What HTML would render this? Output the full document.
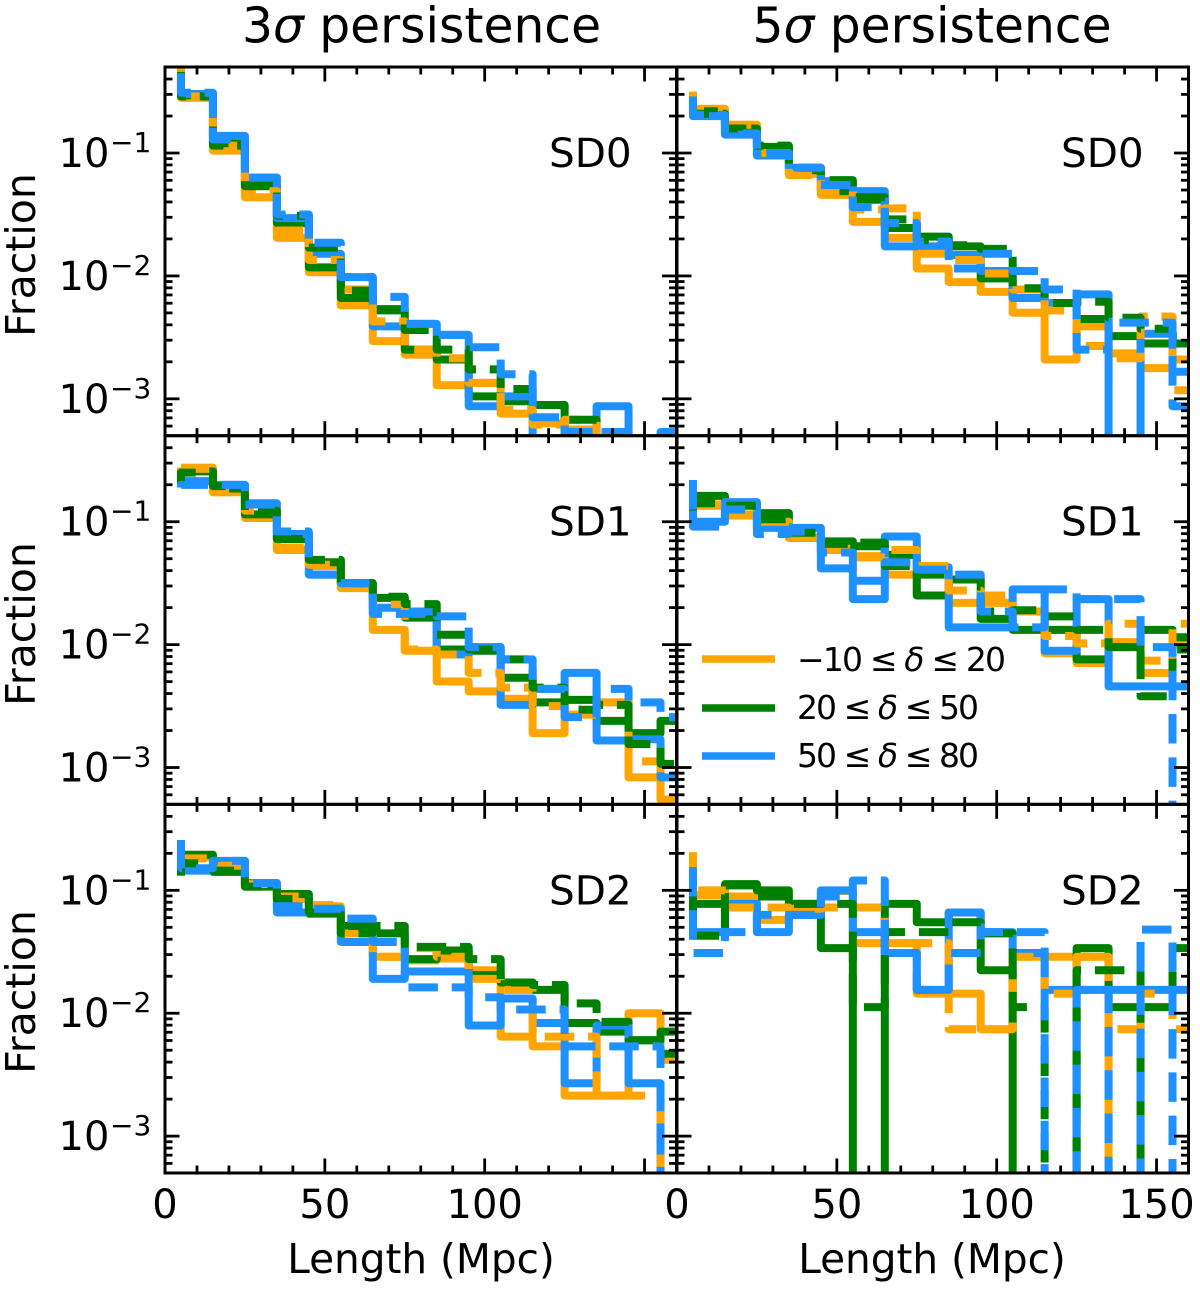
<!DOCTYPE html>
<html lang="en">
<head>
<meta charset="utf-8">
<title>Filament length fractions</title>
<style>
html,body{margin:0;padding:0;background:#fff;}
svg{display:block;}
text{font-family:"DejaVu Sans","Liberation Sans",sans-serif;fill:#000;}
</style>
</head>
<body>
<svg id="chart" xmlns="http://www.w3.org/2000/svg" width="1200" height="1291" viewBox="0 0 1200 1291">
  <rect x="0" y="0" width="1200" height="1291" fill="#fff"/>
  <text x="421.5" y="42.5" font-size="48.7" text-anchor="middle">3<tspan font-style="italic">σ</tspan> persistence</text>
  <text x="932" y="42.5" font-size="48.7" text-anchor="middle">5<tspan font-style="italic">σ</tspan> persistence</text>
  <text transform="translate(35,255) rotate(-90)" font-size="41" text-anchor="middle">Fraction</text>
  <text transform="translate(35,624) rotate(-90)" font-size="41" text-anchor="middle">Fraction</text>
  <text transform="translate(35,992) rotate(-90)" font-size="41" text-anchor="middle">Fraction</text>
  <text x="421" y="1273" font-size="40.6" text-anchor="middle">Length (Mpc)</text>
  <text x="932" y="1273" font-size="40.6" text-anchor="middle">Length (Mpc)</text>
  <g id="panels"></g>
  <g>
    <line x1="702" y1="659" x2="775" y2="659" stroke="#FFA500" stroke-width="7.6"/>
    <text x="797" y="671" font-size="33" textLength="209">−10 ≤ <tspan font-style="italic">δ</tspan> ≤ 20</text>
    <line x1="702" y1="708" x2="775" y2="708" stroke="#008000" stroke-width="7.6"/>
    <text x="797" y="719" font-size="33" textLength="182">20 ≤ <tspan font-style="italic">δ</tspan> ≤ 50</text>
    <line x1="702" y1="756" x2="775" y2="756" stroke="#1E90FF" stroke-width="7.6"/>
    <text x="797" y="767" font-size="33" textLength="182">50 ≤ <tspan font-style="italic">δ</tspan> ≤ 80</text>
  </g>
</svg>
<script>
// Bin positions (Mpc); each value holds from the previous position up to this one. Values are log10(fraction); null = empty bin.
const binPositions = [5,15,25,35,45,55,65,75,85,95,105,115,125,135,145,155,165];
const n = null;

// 3 sigma, SD0
const s3sd0OrangeSolid = [-.27,-.55,-.98,-1.36,-1.69,-1.97,-2.24,-2.53,-2.64,-2.89,-2.87,-3.12,-3.20,-3.25,n,n,n];
const s3sd0OrangeDash  = [-.27,-.54,-.94,-1.31,-1.63,-1.87,-2.11,-2.37,-2.60,-2.67,-2.87,-3.09,-3.21,-3.17,n,n,n];
const s3sd0GreenSolid  = [-.33,-.53,-.92,-1.26,-1.57,-1.93,-2.18,-2.28,-2.60,-2.68,-2.98,-3.02,-3.05,-3.28,n,n,n];
const s3sd0GreenDash   = [-.34,-.54,-.94,-1.27,-1.51,-1.77,-2.12,-2.27,-2.44,-2.60,-2.76,-2.92,-3.05,-3.17,n,n,n];
const s3sd0BlueSolid   = [-.35,-.52,-.86,-1.20,-1.53,-1.82,-2.01,-2.41,-2.39,-2.48,-3.06,-2.98,n,-3.27,-3.06,n,-3.27];
const s3sd0BlueDash    = [-.35,-.51,-.89,-1.20,-1.50,-1.73,-2.01,-2.17,-2.39,-2.48,-2.58,-2.80,-3.15,-3.27,-3.27,n,n];

// 5 sigma, SD0
const s5sd0OrangeSolid = [-.50,-.64,-.77,-1.02,-1.17,-1.34,-1.56,-1.69,-1.94,-2.05,-2.13,-2.30,-2.68,-2.41,-2.63,-2.75,-2.68];
const s5sd0OrangeDash  = [-.50,-.65,-.77,-1.00,-1.18,-1.31,-1.46,-1.45,-1.82,-1.87,-1.98,-2.11,-2.28,-2.57,-2.67,-2.33,-2.93];
const s5sd0GreenSolid  = [-.57,-.66,-.80,-.95,-1.14,-1.31,-1.38,-1.61,-1.68,-1.76,-2.02,-2.18,-2.22,-2.35,-2.49,-2.55,-2.55];
const s5sd0GreenDash   = [-.57,-.68,-.80,-.94,-1.12,-1.22,-1.36,-1.54,-1.71,-1.75,-1.78,-2.10,-2.22,-2.21,-2.34,-2.43,-2.49];
const s5sd0BlueSolid   = [-.515,-.70,-.85,-1.02,-1.12,-1.23,-1.31,-1.76,-1.76,-1.83,-1.96,-2.18,-2.22,-2.15,n,-2.47,-2.78];
const s5sd0BlueDash    = [-.54,-.69,-.84,-1.00,-1.12,-1.26,-1.44,-1.57,-1.72,-1.94,-1.82,-1.96,-2.11,-2.60,-2.38,-2.38,-3.06];

// 3 sigma, SD1
const s3sd1OrangeSolid = [-.56,-.56,-.76,-.97,-1.23,-1.36,-1.54,-1.88,-2.05,-2.30,-2.38,-2.44,-2.72,-2.57,-2.47,-3.08,-3.26];
const s3sd1OrangeDash  = [-.56,-.57,-.76,-.91,-1.21,-1.35,-1.54,-1.67,-2.04,-2.08,-2.23,-2.35,-2.50,-2.57,-2.47,-2.95,-3.26];
const s3sd1GreenSolid  = [-.72,-.59,-.73,-.94,-1.14,-1.33,-1.50,-1.62,-1.78,-2.04,-2.05,-2.27,-2.47,-2.45,-2.62,-2.72,-2.62];
const s3sd1GreenDash   = [-.72,-.60,-.71,-.91,-1.14,-1.31,-1.50,-1.61,-1.67,-1.92,-2.04,-2.12,-2.35,-2.53,-2.49,-2.81,-2.97];
const s3sd1BlueSolid   = [-.72,-.67,-.70,-.85,-1.10,-1.43,-1.50,-1.70,-1.73,-2.08,-2.02,-2.49,-2.36,-2.23,-2.78,-2.77,-3.08];
const s3sd1BlueDash    = [-.72,-.70,-.70,-.86,-1.08,-1.43,-1.50,-1.75,-1.75,-1.77,-2.02,-2.12,-2.36,-2.59,-2.36,-2.47,-2.59];

// 5 sigma, SD1
const s5sd1OrangeSolid = [-.87,-.87,-.95,-1.01,-1.13,-1.23,-1.28,-1.43,-1.60,-1.66,-1.66,-1.73,-2.07,-2.15,-1.98,-2.23,-2.00];
const s5sd1OrangeDash  = [-.87,-.86,-.94,-1.00,-1.13,-1.22,-1.29,-1.23,-1.36,-1.56,-1.60,-1.73,-1.93,-1.99,-1.83,-2.13,-1.83];
const s5sd1GreenSolid  = [-.91,-.79,-.85,-.93,-1.13,-1.16,-1.20,-1.27,-1.60,-1.47,-1.79,-1.88,-1.88,-2.12,-2.02,-1.88,-1.94];
const s5sd1GreenDash   = [-.91,-.85,-.87,-.98,-1.09,-1.18,-1.17,-1.36,-1.43,-1.47,-1.73,-1.72,-1.77,-1.88,-2.02,-2.42,-2.04];
const s5sd1BlueSolid   = [-.66,-1.00,-.84,-1.05,-1.05,-1.38,-1.63,-1.12,-1.37,-1.86,-1.86,-1.55,-2.05,-1.63,-2.34,-2.34,-2.34];
const s5sd1BlueDash    = [-.66,-1.04,-.90,-1.10,-1.08,-1.25,-1.48,-1.33,-1.39,-1.43,-1.73,-1.86,-1.55,-1.63,-1.63,-2.02,n];

// 3 sigma, SD2
const s3sd2OrangeSolid = [-.71,-.73,-.82,-.95,-1.07,-1.13,-1.35,-1.54,-1.57,-1.555,-1.65,-2.19,-2.27,-2.67,-2.67,-2.00,-2.38];
const s3sd2OrangeDash  = [-.71,-.74,-.80,-.95,-1.05,-1.12,-1.35,-1.54,-1.47,-1.54,-1.72,-1.81,-2.19,-2.19,-2.67,-2.67,n];
const s3sd2GreenSolid  = [-.88,-.71,-.85,-.97,-1.03,-1.19,-1.29,-1.35,-1.56,-1.49,-1.69,-1.75,-1.81,-2.08,-2.15,-2.22,-2.15];
const s3sd2GreenDash   = [-.88,-.78,-.84,-.97,-1.07,-1.18,-1.35,-1.29,-1.46,-1.46,-1.56,-1.75,-1.77,-1.92,-2.07,-2.22,-2.33];
const s3sd2BlueSolid   = [-.59,-.84,-.76,-.94,-1.18,-1.15,-1.42,-1.72,-1.66,-1.66,-2.10,-1.88,-2.08,-2.57,-2.10,-2.57,n];
const s3sd2BlueDash    = [-.59,-.82,-.76,-.94,-1.13,-1.15,-1.23,-1.42,-1.79,-1.79,-1.87,-1.97,-1.97,-2.27,-2.27,-2.27,n];

// 5 sigma, SD2
const s5sd2OrangeSolid = [-.69,-1.04,-1.05,-1.24,-1.15,-1.005,-1.43,-1.43,-1.84,-1.84,-2.13,-1.54,-1.54,-1.54,n,n,n];
const s5sd2OrangeDash  = [-.69,-1.00,-1.14,-1.14,-1.15,-1.14,-1.14,-1.43,-1.43,-2.13,-2.13,-1.54,-1.84,-1.54,-2.13,-1.84,-2.13];
const s5sd2GreenSolid  = [-1.11,-1.11,-.95,-1.00,-1.11,-1.47,n,-1.11,-1.26,-1.18,-1.65,n,n,-1.47,-1.95,n,n];
const s5sd2GreenDash   = [-.99,-1.37,-.96,-1.05,-1.11,-1.11,-1.95,-1.34,-1.34,-1.26,-1.35,-1.95,n,-1.65,-1.65,-1.95,-1.47];
const s5sd2BlueSolid   = [-.81,-1.34,-1.11,-1.34,-1.20,-1.00,-1.34,-1.51,-1.81,-1.18,-1.34,-1.51,-1.81,-1.81,-1.81,-1.81,-1.81];
const s5sd2BlueDash    = [-.81,-1.51,-1.34,-1.20,-1.20,-1.05,-.92,-1.51,-1.81,-1.51,-1.34,-1.34,n,-1.81,n,-1.32,n];

const xMajorTicks = [50,100,150];
const xMinorTicks = [10,20,30,40,60,70,80,90,110,120,130,140];
const yMajorTicks = [-1,-2,-3];
const yTickExponents = ['−1','−2','−3'];
const yMinorMantissas = [2,3,4,5,6,7,8,9];
const yMinorDecades = [-1,-2,-3,-4];

const colLeft = [165,677];
const rowTop = [67,435.7,804.3];
const panelW = 511.5, panelH = 368.7;
const xMax = 160, yTop = -0.30, yBottom = -3.30;
const SVGNS = 'http://www.w3.org/2000/svg';
const root = document.getElementById('panels');

function make(tag, attrs, parent){
  const el = document.createElementNS(SVGNS, tag);
  for (const k in attrs) el.setAttribute(k, attrs[k]);
  parent.appendChild(el);
  return el;
}
function xScale(col, v){ return colLeft[col] + v / xMax * panelW; }
function yScale(row, v){
  if (v === null) return rowTop[row] + panelH + 70;
  return rowTop[row] + (yTop - v) / (yTop - yBottom) * panelH;
}
function stepPath(row, col, values){
  let d = '';
  binPositions.forEach(function(x, i){
    const px = xScale(col, x).toFixed(2);
    const py = yScale(row, values[i]).toFixed(2);
    if (i === 0) {
      d += 'M' + px + ' ' + py;
    } else {
      d += 'L' + xScale(col, binPositions[i-1]).toFixed(2) + ' ' + py + 'L' + px + ' ' + py;
    }
  });
  return d;
}
const colors = {orange:'#FFA500', green:'#008000', blue:'#1E90FF'};

const panelDefs = [
  {row:0,col:0,label:'SD0',sigma:'3',series:[['orange',0,s3sd0OrangeSolid],['green',0,s3sd0GreenSolid],['blue',0,s3sd0BlueSolid],['orange',1,s3sd0OrangeDash],['green',1,s3sd0GreenDash],['blue',1,s3sd0BlueDash]]},
  {row:0,col:1,label:'SD0',sigma:'5',series:[['orange',0,s5sd0OrangeSolid],['green',0,s5sd0GreenSolid],['blue',0,s5sd0BlueSolid],['orange',1,s5sd0OrangeDash],['green',1,s5sd0GreenDash],['blue',1,s5sd0BlueDash]]},
  {row:1,col:0,label:'SD1',sigma:'3',series:[['orange',0,s3sd1OrangeSolid],['green',0,s3sd1GreenSolid],['blue',0,s3sd1BlueSolid],['orange',1,s3sd1OrangeDash],['green',1,s3sd1GreenDash],['blue',1,s3sd1BlueDash]]},
  {row:1,col:1,label:'SD1',sigma:'5',series:[['orange',0,s5sd1OrangeSolid],['green',0,s5sd1GreenSolid],['blue',0,s5sd1BlueSolid],['orange',1,s5sd1OrangeDash],['green',1,s5sd1GreenDash],['blue',1,s5sd1BlueDash]]},
  {row:2,col:0,label:'SD2',sigma:'3',series:[['orange',0,s3sd2OrangeSolid],['green',0,s3sd2GreenSolid],['blue',0,s3sd2BlueSolid],['orange',1,s3sd2OrangeDash],['green',1,s3sd2GreenDash],['blue',1,s3sd2BlueDash]]},
  {row:2,col:1,label:'SD2',sigma:'5',series:[['orange',0,s5sd2OrangeSolid],['green',0,s5sd2GreenSolid],['blue',0,s5sd2BlueSolid],['orange',1,s5sd2OrangeDash],['green',1,s5sd2GreenDash],['blue',1,s5sd2BlueDash]]}
];

function tickLine(group, x1, y1, x2, y2){
  const t = make('line', {x1:x1, y1:y1, x2:x2, y2:y2, stroke:'#000', 'stroke-width':2.8}, group);
  
  
}

panelDefs.forEach(function(p){
  const key = p.sigma + 'sigma-' + p.label.toLowerCase();
  const g = make('g', {}, root);
  
  

  const left = colLeft[p.col], top = rowTop[p.row];
  const defs = make('defs', {}, g);
  const clip = make('clipPath', {id:'clip-' + key}, defs);
  make('rect', {x:left, y:top, width:panelW, height:panelH}, clip);

  const lines = make('g', {'clip-path':'url(#clip-' + key + ')'}, g);
  
  
  p.series.forEach(function(s){
    const path = make('path', {
      d: stepPath(p.row, p.col, s[2]),
      fill: 'none',
      stroke: colors[s[0]],
      'stroke-width': 8,
      'stroke-linejoin': 'round',
      'stroke-dasharray': s[1] ? '29.5 13.8' : 'none'
    }, lines);
    
    
  });

  const ticks = make('g', {}, g);
  
  
  const bottom = top + panelH, right = left + panelW;
  xMajorTicks.forEach(function(v){
    const x = xScale(p.col, v);
    tickLine(ticks, x, top, x, top + 14.5);
    tickLine(ticks, x, bottom, x, bottom - 14.5);
  });
  xMinorTicks.forEach(function(v){
    const x = xScale(p.col, v);
    tickLine(ticks, x, top, x, top + 7.5);
    tickLine(ticks, x, bottom, x, bottom - 7.5);
  });
  yMajorTicks.forEach(function(v){
    const y = yScale(p.row, v);
    tickLine(ticks, left, y, left + 14.5, y);
    tickLine(ticks, right, y, right - 14.5, y);
  });
  yMinorDecades.forEach(function(dec){
    yMinorMantissas.forEach(function(m){
      const v = dec + Math.log10(m);
      if (v > yTop - 0.01 || v < yBottom + 0.01) return;
      const y = yScale(p.row, v);
      tickLine(ticks, left, y, left + 7.5, y);
      tickLine(ticks, right, y, right - 7.5, y);
    });
  });

  const frame = make('rect', {x:left, y:top, width:panelW, height:panelH, fill:'none', stroke:'#000', 'stroke-width':3}, g);
  
  

  const lab = make('text', {x:left + 384, y:top + 100, 'font-size':40.5}, g);
  lab.textContent = p.label;
  
  

  if (p.col === 0) {
    yMajorTicks.forEach(function(v, i){
      const y = yScale(p.row, v);
      const base = make('text', {x:58.5, y:y + 14, 'font-size':40}, g);
      base.textContent = '10';
      
      
      const sup = make('text', {x:110, y:y - 1, 'font-size':28}, g);
      sup.textContent = yTickExponents[i];
      
      
    });
  }
  if (p.row === 2) {
    const labelTicks = p.col === 0 ? [0,50,100] : [0,50,100,150];
    labelTicks.forEach(function(v){
      const tl = make('text', {x:xScale(p.col, v), y:1218, 'font-size':40, 'text-anchor':'middle'}, g);
      tl.textContent = String(v);
      
      
    });
  }
});
</script>
</body>
</html>
